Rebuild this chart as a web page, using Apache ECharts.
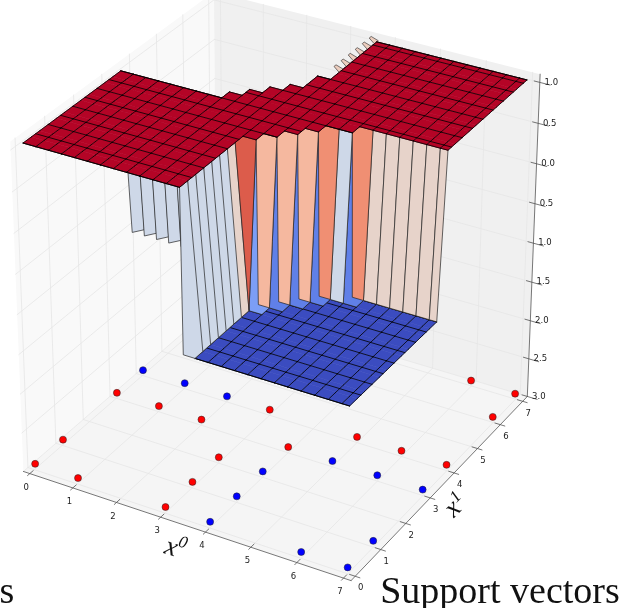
<!DOCTYPE html><html><head><meta charset="utf-8"><style>html,body{margin:0;background:#fff}#c{width:626px;height:608px}</style></head><body><div id="c"></div><script src="https://cdn.jsdelivr.net/npm/echarts@6/dist/echarts.min.js"></script><script>
// ---- data ----
const redPoints=[[0,0],[0,1],[0,3],[1,0],[1,3],[2,3],[3,0],[3,1],[3,2],[3,4],[4,3],[5,4],[6,4],[7,4],[7,6],[7,7],[6,7]];
const bluePoints=[[0,4],[1,4],[2,4],[4,0],[4,1],[4,2],[5,3],[6,3],[7,3],[6,0],[7,0],[7,1]];
const scatterZ=-3;
const xTicks=[0,1,2,3,4,5,6,7];
const yTicks=[0,1,2,3,4,5,6,7];
const zTicks=[1,0.5,0,-0.5,-1,-1.5,-2,-2.5,-3];
const zTickLabels=['1.0','0.5','0.0','0.5','1.0','1.5','2.0','2.5','3.0'];
// surface mesh: z is +1 on the upper sheet and -1 elsewhere
const meshStep=0.285, meshEnd=7, meshCount=26, tileRowStep=0.4275;
const backRow=[12,12,12,12,12,12,12,12,13,14,15,16,18];           // columns 0..12: last row at z=+1
const frontRow=[8,9,10,11,12,12,13,13,13,13,13,13,13];             // columns 13..25: first row at z=+1
const leftWallTone=[.45,.45,.45,.45,.45,.45,.55,.88];
const stripTone=[.66,.66,.66,.77,.45,.77,.55,.55,.55,.55,.55,.55,.55];
const foldTone=[.2,.12,.12,.12,.12,.12,.12,.12,.12,.12,.12,.12,.12];
const backTipRows=[19,20,21,22,23,24];
const toneStops=[[59,76,192],[98,130,234],[141,176,254],[184,208,249],[221,221,221],[245,196,173],[244,152,122],[222,96,77],[180,4,38]];
// camera: 3x4 projective matrix fitted to the axes
const camera=[43.97251,29.62140,-3.435114,26.16098, 11.51099,-20.03614,-85.00271,226.2709, -0.006767955,0.01151410,-0.01254434];
const box={xlo:-0.05,xhi:7.26,ylo:-0.34,yhi:7.03,zlo:-3,zhi:1.1};
const tickShiftX=0.1, tickShiftY=-0.18;

function project(x,y,z){const c=camera,w=c[8]*x+c[9]*y+c[10]*z+1;return [(c[0]*x+c[1]*y+c[2]*z+c[3])/w,(c[4]*x+c[5]*y+c[6]*z+c[7])/w];}
function depth(p){const c=camera;return c[8]*p[0]+c[9]*p[1]+c[10]*p[2]+1;}
function tone(t){const v=t*8,k=Math.min(7,Math.floor(v)),f=v-k,a=toneStops[k],b=toneStops[k+1];return 'rgb('+a.map((q,n)=>Math.round(q+(b[n]-q)*f)).join(',')+')';}
const mesh=[];for(let i=0;i<meshCount;i++)mesh.push(i===meshCount-1?meshEnd:i*meshStep);
const N=meshCount-1;
function up(i,j){return i<=12?j<=backRow[i]:j>=frontRow[i-13];}
function Zv(i,j){return up(i,j)?1:-1;}
function ups(i,j){return [[i,j],[i+1,j],[i+1,j+1],[i,j+1]].filter(q=>up(q[0],q[1])).length;}
const edgeStroke='#222', tileStroke='#000';
const blueFlat=[],blueLines=[],walls=[],topFlat=[],topLines=[],tips=[];
function seg(a,b,out,color){out.push({seg:[a,b],color});}
for(let i=0;i<N;i++)for(let j=0;j<N;j++){
  const n=ups(i,j);
  let pts=[[i,j],[i+1,j],[i+1,j+1],[i,j+1]].map(q=>[mesh[q[0]],mesh[q[1]],Zv(q[0],q[1])]);
  if(n===4){topFlat.push({pts,fill:tone(1),stroke:tone(1),lw:0.6});continue;}
  if(n===0){if(i>=13)blueFlat.push({pts,fill:tone(0),stroke:tone(0),lw:0.6});continue;}
  let t;
  if(i===12&&j<8)t=leftWallTone[j];
  else if(i>=13)t=n===1?foldTone[i-13]:stripTone[i-13];
  else t=n===3?.77:n===2?.45:.15;
  if(i<=6&&j===12&&n===2){pts[2]=[pts[2][0],pts[2][1],-1.02];pts[3]=[pts[3][0],pts[3][1],-1.1];}
  if(i===12&&j<7)pts=[[mesh[12],mesh[j],1],[mesh[12]+0.03,mesh[j],-1],[mesh[13],mesh[j],-1],[mesh[13],mesh[j+1],-1],[mesh[12],mesh[j+1],1]];
  if(i>=13&&n===3&&up(i,j)&&!up(i+1,j))pts=[[mesh[i],mesh[j],1],[mesh[i]+0.04,mesh[j],-1],[mesh[i+1],mesh[j],-1],[mesh[i+1],mesh[j+1],1],[mesh[i],mesh[j+1],1]];
  walls.push({pts,fill:tone(t),stroke:edgeStroke,lw:0.7,d:pts.reduce((s,p)=>s+depth(p),0)/pts.length});
}
walls.sort((a,b)=>b.d-a.d);
backTipRows.forEach(j=>{const x=mesh[13],x2=x-0.16,y=mesh[j]+0.12;tips.push({pts:[[x,y-0.06,1],[x,y+0.1,1],[x2,y+0.1,1.03],[x2,y+0.02,1.03]],fill:tone(.58),stroke:edgeStroke,lw:0.6});});
// tile lines on the two flat sheets
function flat(i,j,n){return i>=0&&j>=0&&i<N&&j<N&&ups(i,j)===n&&(n===4||i>=13);}
[[4,1,topLines],[0,-1,blueLines]].forEach(([n,z,out])=>{
  for(let i=0;i<=N;i++)for(let j=0;j<N;j++)if(flat(i,j,n)||flat(i-1,j,n))seg([mesh[i],mesh[j],z],[mesh[i],mesh[j+1],z],out,tileStroke);
  const rows=[];for(let k=0;k*tileRowStep<meshEnd;k++)rows.push(k*tileRowStep);rows.push(meshEnd);
  for(let i=0;i<N;i++){
    rows.forEach(y=>{let j=mesh.findIndex((m,q)=>q<N&&y>=m-1e-6&&y<mesh[q+1]-1e-6);if(y===meshEnd)j=N-1;if(flat(i,j,n)||(y===mesh[j]&&flat(i,j-1,n)))seg([mesh[i],y,z],[mesh[i+1],y,z],out,tileStroke);});
    for(let j=0;j<N;j++)if(flat(i,j,n)&&!flat(i,j+1,n))seg([mesh[i],mesh[j+1],z],[mesh[i+1],mesh[j+1],z],out,tileStroke);
    for(let j=0;j<N;j++)if(flat(i,j,n)&&!flat(i,j-1,n))seg([mesh[i],mesh[j],z],[mesh[i+1],mesh[j],z],out,tileStroke);
  }
});
const surface=[...blueFlat,...blueLines,...walls,...tips,...topFlat,...topLines];
const {xlo,xhi,ylo,yhi,zlo,zhi}=box;
const panes=[
 {pts:[[xlo,ylo,zlo],[xhi,ylo,zlo],[xhi,yhi,zlo],[xlo,yhi,zlo]],fill:'#f5f5f5'},
 {pts:[[xlo,ylo,zlo],[xlo,yhi,zlo],[xlo,yhi,zhi],[xlo,ylo,zhi]],fill:'#f9f9f9'},
 {pts:[[xlo,yhi,zlo],[xhi,yhi,zlo],[xhi,yhi,zhi],[xlo,yhi,zhi]],fill:'#f0f0f0'}];
const gridSegs=[];
xTicks.forEach(v=>{const x=v+tickShiftX;gridSegs.push([[x,ylo,zlo],[x,yhi,zlo]],[[x,yhi,zlo],[x,yhi,zhi]]);});
yTicks.forEach(v=>{const y=v+tickShiftY;gridSegs.push([[xlo,y,zlo],[xhi,y,zlo]],[[xlo,y,zlo],[xlo,y,zhi]]);});
zTicks.forEach(v=>{gridSegs.push([[xlo,ylo,v],[xlo,yhi,v]],[[xlo,yhi,v],[xhi,yhi,v]]);});
const axisSegs=[[[xlo,ylo,zlo],[xhi,ylo,zlo]],[[xhi,ylo,zlo],[xhi,yhi,zlo]],[[xhi,yhi,zlo],[xhi,yhi,zhi]]];
xTicks.forEach(v=>{const x=v+tickShiftX;axisSegs.push([[x,ylo-0.08,zlo],[x,ylo+0.12,zlo]]);});
yTicks.forEach(v=>{const y=v+tickShiftY;axisSegs.push([[xhi-0.12,y,zlo],[xhi+0.1,y,zlo]]);});
zTicks.forEach(v=>{axisSegs.push([[xhi-0.12,yhi,v],[xhi+0.22,yhi,v]]);});
const tickTexts=[];
xTicks.forEach(v=>{const q=project(v+tickShiftX,ylo,zlo);tickTexts.push({q,dx:-3.5,dy:14,text:String(v)});});
yTicks.forEach(v=>{const q=project(xhi,v+tickShiftY,zlo);tickTexts.push({q,dx:5.5,dy:12,text:String(v)});});
zTicks.forEach((v,k)=>{const q=project(xhi,yhi,v);tickTexts.push({q,dx:11.5,dy:0,text:zTickLabels[k]});});

function polySeries(list,style,z){return {type:'custom',coordinateSystem:'cartesian2d',silent:true,animation:false,progressive:0,clip:false,z:z||2,
 data:list.map((_,k)=>[k,k]),encode:{x:0,y:1},
 renderItem:(p,api)=>{const f=list[p.dataIndex];
  if(f.seg){const a=api.coord(project(...f.seg[0])),b=api.coord(project(...f.seg[1]));return {type:'line',shape:{x1:a[0],y1:a[1],x2:b[0],y2:b[1]},style:{stroke:f.color,lineWidth:0.8,lineCap:'round'}};}
  return {type:'polygon',shape:{points:f.pts.map(q=>api.coord(project(q[0],q[1],q[2])))},style:Object.assign({fill:f.fill,stroke:f.stroke||'none',lineWidth:f.lw||0,lineJoin:'round'},style)};}};}
function lineSeries(list,stroke,w,z){return polySeries(list.map(s=>({seg:s,color:stroke})),{},z);}
function dots(list,color){return {type:'scatter',symbolSize:7,silent:true,animation:false,clip:false,z:5,itemStyle:{color,borderColor:'#222',borderWidth:0.5,opacity:1},data:list.map(q=>project(q[0],q[1],scatterZ))};}
const captions=[
 {x:171,y:548,text:'x',rot:-0.3,font:'italic 27px "Liberation Serif"'},
 {x:183,y:543,text:'0',rot:-0.3,font:'italic 17px "Liberation Serif"'},
 {x:453,y:509,text:'x',rot:0.8,font:'italic 27px "Liberation Serif"'},
 {x:456,y:497,text:'1',rot:0.8,font:'italic 17px "Liberation Serif"'},
 {x:500,y:593,text:'Support vectors',font:'38px "Liberation Serif"',rot:0},
 {x:7,y:593,text:'s',font:'38px "Liberation Serif"',rot:0}];
const chart=echarts.init(document.getElementById('c'),null,{renderer:'canvas'});
chart.setOption({animation:false,
 grid:{left:0,right:0,top:0,bottom:0},
 xAxis:{type:'value',min:0,max:626,show:false},
 yAxis:{type:'value',min:0,max:608,inverse:true,show:false},
 series:[
  polySeries(panes,{stroke:'none'},1),
  lineSeries(gridSegs,'#e6e6e6',1,2),
  lineSeries(axisSegs,'#555',0.8,3),
  dots(redPoints,'#ff0000'),dots(bluePoints,'#0000ff'),
  polySeries(surface,{},6),
  {type:'custom',coordinateSystem:'cartesian2d',silent:true,animation:false,clip:false,z:7,data:tickTexts.map((t,k)=>[k,k]),encode:{x:0,y:1},
   renderItem:(p,api)=>{const t=tickTexts[p.dataIndex],a=api.coord(t.q);return {type:'text',style:{x:a[0]+t.dx,y:a[1]+t.dy,text:t.text,fill:'#222',font:'8.5px "DejaVu Sans"',align:'center',verticalAlign:'middle'}};}},
  {type:'custom',coordinateSystem:'cartesian2d',silent:true,animation:false,clip:false,z:8,data:captions.map((t,k)=>[k,k]),encode:{x:0,y:1},
   renderItem:(p,api)=>{const t=captions[p.dataIndex],a=api.coord([t.x,t.y]);return {type:'text',x:a[0],y:a[1],rotation:t.rot,style:{x:0,y:0,text:t.text,fill:'#111',font:t.font,align:'center',verticalAlign:'middle'}};}}
 ]});
</script></body></html>
